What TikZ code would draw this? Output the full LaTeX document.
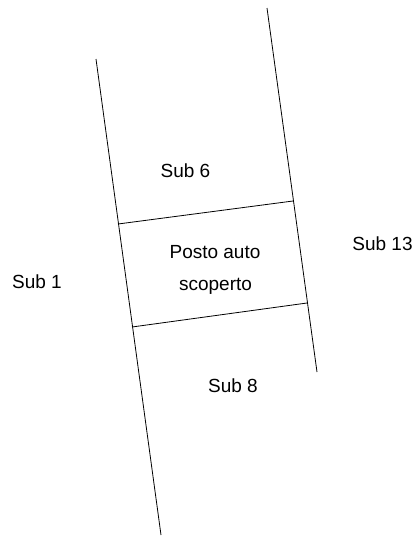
\documentclass[tikz,border=0pt]{standalone}
\usepackage{fontspec}
\setmainfont{Liberation Sans}
\usepackage{tikz}
\tikzset{
	x=1pt, y=-1pt, % one unit is one pixel of the plan, y grows downwards
	confine/.style={line width=0.8pt, black}, % property boundaries
	lbl/.style={font=\fontsize{19}{22}\selectfont, inner sep=0pt, anchor=base}, % labels of the lots
}

\begin{document}
\begin{tikzpicture}
	\useasboundingbox (0,0) rectangle (417,536);
			\coordinate (lt) at (96,59);
			\coordinate (lb) at (161,535);
			\coordinate (rt) at (267,8);
			\coordinate (rb) at (317,372);
			\coordinate (ul) at (118,224);
			\coordinate (ur) at (293,201);
			\coordinate (dl) at (132,327);
			\coordinate (dr) at (307,303);
	\draw[confine] (lt) -- (lb);
	\draw[confine] (rt) -- (rb);
	\draw[confine] (ul) -- (ur);
	\draw[confine] (dl) -- (dr);
			\node[lbl] (sub6) at (185.5,177) {Sub 6};
			\node[lbl] (sub1) at (37,288) {Sub 1};
			\node[lbl] (sub13) at (382.5,250) {Sub 13};
			\node[lbl] (sub8) at (233,392) {Sub 8};
			\node[lbl] (posto) at (215,258) {Posto auto};
			\node[lbl] (scoperto) at (215.5,290) {scoperto};
	\end{tikzpicture}
\end{document}
